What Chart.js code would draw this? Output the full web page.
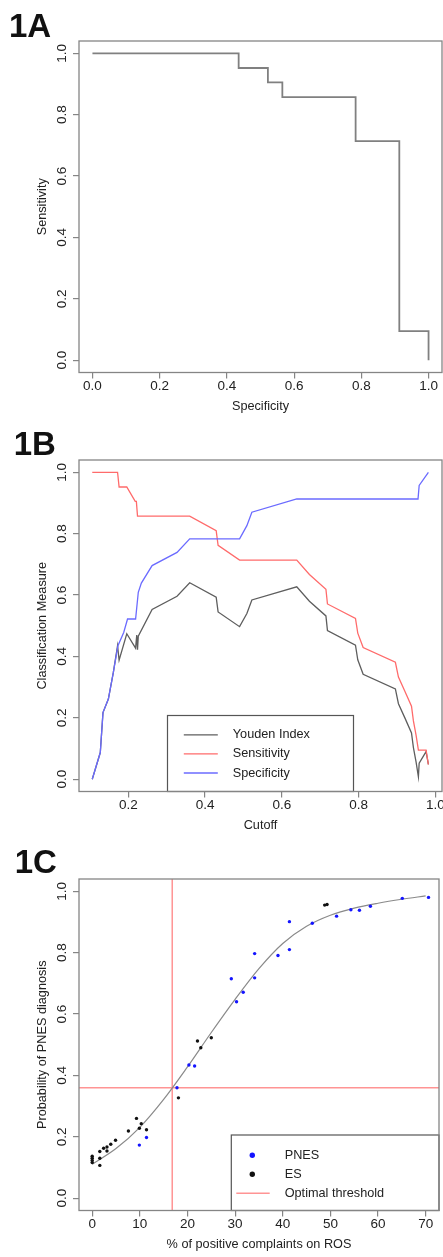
<!DOCTYPE html>
<html><head><meta charset="utf-8">
<script src="https://cdn.jsdelivr.net/npm/chart.js@4.4.1/dist/chart.umd.min.js"></script>
<style>
html,body{margin:0;padding:0;background:#fff;}
body{width:443px;height:1257px;position:relative;overflow:hidden;font-family:'Liberation Sans',Arial,sans-serif;}
canvas{position:absolute;left:0;}
.panel{position:absolute;font-weight:bold;font-size:33px;line-height:1;color:#111;white-space:nowrap;}
</style></head><body>
<canvas id="chartA" width="443" height="419" style="top:0px"></canvas>
<canvas id="chartB" width="443" height="419" style="top:419px"></canvas>
<canvas id="chartC" width="443" height="419" style="top:838px"></canvas>
<div class="panel" style="left:9px;top:8.7px">1A</div>
<div class="panel" style="left:13.7px;top:427.4px">1B</div>
<div class="panel" style="left:14.7px;top:845px">1C</div>
<script>
// ---------- Panel 1A: ROC curve ----------
const rocSpecificity = [0, 0.435, 0.522, 0.565, 0.783, 0.913, 1.0];
const rocSensitivity = [1.0, 0.952, 0.905, 0.857, 0.714, 0.095, 0.0];

// ---------- Panel 1B: classification measures vs cutoff ----------
const youdenCutoff = [0.106,0.127,0.134,0.148,0.161,0.172,0.176,0.196,0.219,0.222,0.224,0.226,0.262,0.327,0.360,0.429,0.434,0.490,0.509,0.522,0.639,0.672,0.715,0.719,0.792,0.798,0.812,0.896,0.904,0.921,0.938,0.943,0.950,0.956,0.958,0.976,0.982];
const youdenValue  = [0.0,0.087,0.217,0.261,0.348,0.435,0.388,0.474,0.427,0.470,0.422,0.466,0.553,0.596,0.640,0.593,0.545,0.497,0.540,0.584,0.627,0.580,0.532,0.484,0.437,0.389,0.342,0.294,0.246,0.199,0.151,0.103,0.056,0.008,0.052,0.090,0.048];
const sensCutoff = [0.106,0.172,0.176,0.196,0.218,0.221,0.224,0.360,0.429,0.434,0.490,0.639,0.672,0.715,0.719,0.792,0.798,0.812,0.896,0.904,0.921,0.938,0.943,0.950,0.956,0.976,0.982];
const sensValue  = [1.0,1.0,0.952,0.952,0.905,0.905,0.857,0.857,0.810,0.762,0.714,0.714,0.667,0.619,0.571,0.524,0.476,0.429,0.381,0.333,0.286,0.238,0.190,0.143,0.095,0.095,0.048];
const specCutoff = [0.106,0.127,0.134,0.148,0.161,0.173,0.188,0.198,0.219,0.226,0.234,0.262,0.327,0.360,0.490,0.509,0.522,0.639,0.955,0.958,0.982];
const specValue  = [0.0,0.087,0.217,0.261,0.348,0.435,0.478,0.522,0.522,0.609,0.639,0.696,0.739,0.783,0.783,0.826,0.870,0.913,0.913,0.957,1.0];

// ---------- Panel 1C: logistic fit ----------
const pnesX = [9.9,11.4,17.8,20.3,21.5,29.2,30.3,31.7,34.1,34.1,39.0,41.4,41.4,46.2,51.3,54.3,56.1,58.4,65.1,70.6];
const pnesY = [0.173,0.198,0.360,0.434,0.431,0.715,0.640,0.671,0.797,0.718,0.791,0.901,0.810,0.896,0.919,0.940,0.938,0.951,0.977,0.980];
const esX = [0,0,0,0,1.6,1.6,1.6,2.4,3.1,3.1,3.9,4.9,7.6,9.3,9.9,10.3,11.4,18.1,22.1,22.8,25.0,48.8,49.3];
const esY = [0.137,0.130,0.123,0.116,0.152,0.130,0.107,0.163,0.167,0.154,0.176,0.189,0.219,0.260,0.228,0.243,0.223,0.327,0.512,0.490,0.523,0.955,0.957];
const curveX = [0,5,10,15,20,25,30,35,40,45,50,55,60,65,70];
const curveY = [0.111,0.162,0.231,0.322,0.428,0.540,0.648,0.748,0.830,0.886,0.922,0.945,0.961,0.974,0.985];
const thresholdX = 16.8;
const thresholdY = 0.36;

// ---------- Tick labels ----------
const unitTicks = [0, 0.2, 0.4, 0.6, 0.8, 1.0];
const unitTickLabels = ['0.0','0.2','0.4','0.6','0.8','1.0'];
const cutoffTicks = [0.2, 0.4, 0.6, 0.8, 1.0];
const cutoffTickLabels = ['0.2','0.4','0.6','0.8','1.0'];
const rosTicks = [0,10,20,30,40,50,60,70];
const rosTickLabels = ['0','10','20','30','40','50','60','70'];

// ---------- styling ----------
const FONT = "'Liberation Sans', Arial, Helvetica, sans-serif";
const TEXT = '#222';
const AXIS = '#858585';
const pts = (xs, ys) => xs.map((x, i) => ({x, y: ys[i]}));

function xAxis(min, max, values, labels, title) {
  return {
    type: 'linear', position: 'bottom', min, max,
    afterBuildTicks: s => { s.ticks = values.map(v => ({value: v})); },
    afterFit: s => { s.height = 46.5; s.paddingLeft = 0; s.paddingRight = 0; },
    grid: {display: true, drawOnChartArea: false, drawTicks: true, tickLength: 6, color: AXIS, lineWidth: 1.2},
    border: {display: false},
    ticks: {autoSkip: false, maxRotation: 0, minRotation: 0, padding: 0, color: TEXT,
            font: {family: FONT, size: 13.5}, callback: (v, i) => labels[i]},
    title: {display: true, text: title, color: TEXT, font: {family: FONT, size: 12.7}, padding: {top: 0, bottom: 4.6}}
  };
}
function yAxis(values, labels, title) {
  return {
    type: 'linear', position: 'left', min: -0.04, max: 1.04,
    afterBuildTicks: s => { s.ticks = values.map(v => ({value: v})); },
    afterFit: s => { s.width = 79; s.paddingTop = 0; s.paddingBottom = 0; },
    grid: {display: true, drawOnChartArea: false, drawTicks: true, tickLength: 6, color: AXIS, lineWidth: 1.2},
    border: {display: false},
    ticks: {display: false, autoSkip: false, callback: (v, i) => labels[i]},
    title: {display: true, text: title, color: TEXT, font: {family: FONT, size: 12.7}, padding: {top: 34.4, bottom: 0}}
  };
}

// R-like decorations: rotated y tick labels, plot box, threshold lines, legend
const rPlot = {
  id: 'rPlot',
  beforeDatasetsDraw(chart, args, opts) {
    const th = opts.threshold;
    if (!th) return;
    const {ctx, chartArea: a, scales: {x, y}} = chart;
    const px = x.getPixelForValue(th.x), py = y.getPixelForValue(th.y);
    ctx.save();
    ctx.strokeStyle = th.color; ctx.lineWidth = th.width;
    ctx.beginPath();
    ctx.moveTo(px, a.top); ctx.lineTo(px, a.bottom);
    ctx.moveTo(a.left, py); ctx.lineTo(a.right, py);
    ctx.stroke();
    ctx.restore();
  },
  afterDatasetsDraw(chart, args, opts) {
    const lg = opts.legend;
    if (!lg) return;
    const {ctx, chartArea: a} = chart;
    const w = lg.width, h = lg.height;
    const left = lg.anchor === 'bottomright' ? a.right - w : (a.left + a.right) / 2 - w / 2;
    const top = a.bottom - h;
    ctx.save();
    ctx.fillStyle = '#fff';
    ctx.fillRect(left, top, w, h);
    ctx.strokeStyle = '#555'; ctx.lineWidth = 1.2;
    ctx.strokeRect(left, top, w, h);
    ctx.font = '12.7px ' + FONT;
    ctx.textBaseline = 'middle'; ctx.textAlign = 'left';
    lg.items.forEach((it, i) => {
      const ry = top + lg.rowStart + i * lg.rowGap;
      if (it.kind === 'line') {
        ctx.strokeStyle = it.color; ctx.lineWidth = it.width;
        ctx.beginPath(); ctx.moveTo(left + it.x0, ry); ctx.lineTo(left + it.x1, ry); ctx.stroke();
      } else {
        ctx.fillStyle = it.color;
        ctx.beginPath(); ctx.arc(left + lg.markerX, ry, 2.7, 0, Math.PI * 2); ctx.fill();
      }
      ctx.fillStyle = TEXT;
      ctx.fillText(it.label, left + lg.textX, ry);
    });
    ctx.restore();
  },
  afterDraw(chart) {
    const {ctx, chartArea: a, scales: {y}} = chart;
    ctx.save();
    ctx.fillStyle = TEXT;
    ctx.font = '13.5px ' + FONT;
    ctx.textAlign = 'center'; ctx.textBaseline = 'middle';
    y.ticks.forEach(t => {
      ctx.save();
      ctx.translate(a.left - 16.5, y.getPixelForValue(t.value));
      ctx.rotate(-Math.PI / 2);
      ctx.fillText(t.label, 0, 0);
      ctx.restore();
    });
    ctx.strokeStyle = AXIS; ctx.lineWidth = 1.3;
    ctx.strokeRect(a.left, a.top, a.right - a.left, a.bottom - a.top);
    ctx.restore();
  }
};

const base = {
  responsive: false, animation: false, devicePixelRatio: 1,
  layout: {padding: {top: 41, right: 1, bottom: 0, left: 0}},
  plugins: {legend: {display: false}, tooltip: {enabled: false}}
};

// 1A
new Chart(document.getElementById('chartA'), {
  type: 'scatter',
  data: {datasets: [{
    label: 'ROC', data: pts(rocSpecificity, rocSensitivity), showLine: true, stepped: true,
    borderColor: '#808080', borderWidth: 1.8, pointRadius: 0
  }]},
  options: Object.assign({}, base, {
    scales: {
      x: xAxis(-0.04, 1.04, unitTicks, unitTickLabels, 'Specificity'),
      y: yAxis(unitTicks, unitTickLabels, 'Sensitivity')
    },
    plugins: Object.assign({}, base.plugins, {rPlot: {}})
  }),
  plugins: [rPlot]
});

// 1B
const colYouden = '#5e5e5e', colSens = '#ff6b6b', colSpec = '#6b6bff';
new Chart(document.getElementById('chartB'), {
  type: 'scatter',
  data: {datasets: [
    {label: 'Youden Index', data: pts(youdenCutoff, youdenValue), showLine: true, borderColor: colYouden, borderWidth: 1.3, pointRadius: 0, order: 3},
    {label: 'Sensitivity', data: pts(sensCutoff, sensValue), showLine: true, borderColor: colSens, borderWidth: 1.3, pointRadius: 0, order: 2},
    {label: 'Specificity', data: pts(specCutoff, specValue), showLine: true, borderColor: colSpec, borderWidth: 1.3, pointRadius: 0, order: 1}
  ]},
  options: Object.assign({}, base, {
    scales: {
      x: xAxis(0.0715, 1.0175, cutoffTicks, cutoffTickLabels, 'Cutoff'),
      y: yAxis(unitTicks, unitTickLabels, 'Classification Measure')
    },
    plugins: Object.assign({}, base.plugins, {rPlot: {legend: {
      anchor: 'bottom', width: 186, height: 76, rowStart: 19.3, rowGap: 19.1, textX: 65.3, markerX: 0,
      items: [
        {kind: 'line', color: colYouden, width: 1.3, x0: 16.3, x1: 50.3, label: 'Youden Index'},
        {kind: 'line', color: colSens, width: 1.3, x0: 16.3, x1: 50.3, label: 'Sensitivity'},
        {kind: 'line', color: colSpec, width: 1.3, x0: 16.3, x1: 50.3, label: 'Specificity'}
      ]
    }}})
  }),
  plugins: [rPlot]
});

// 1C
const colPnes = '#1414ff', colEs = '#111111', colThr = '#ff9494';
new Chart(document.getElementById('chartC'), {
  type: 'scatter',
  data: {datasets: [
    {label: 'Fit', data: pts(curveX, curveY), showLine: true, cubicInterpolationMode: 'monotone', borderColor: '#8a8a8a', borderWidth: 1.2, pointRadius: 0, order: 3},
    {label: 'ES', data: pts(esX, esY), backgroundColor: colEs, borderWidth: 0, pointRadius: 1.7, order: 2},
    {label: 'PNES', data: pts(pnesX, pnesY), backgroundColor: colPnes, borderWidth: 0, pointRadius: 1.7, order: 1}
  ]},
  options: Object.assign({}, base, {
    scales: {
      x: xAxis(-2.77, 72.8, rosTicks, rosTickLabels, '% of positive complaints on ROS'),
      y: yAxis(unitTicks, unitTickLabels, 'Probability of PNES diagnosis')
    },
    plugins: Object.assign({}, base.plugins, {rPlot: {
      threshold: {x: thresholdX, y: thresholdY, color: colThr, width: 1.5},
      legend: {
        anchor: 'bottomright', width: 207.7, height: 75.5, rowStart: 20.3, rowGap: 19, textX: 53.4, markerX: 21,
        items: [
          {kind: 'point', color: colPnes, label: 'PNES'},
          {kind: 'point', color: colEs, label: 'ES'},
          {kind: 'line', color: colThr, width: 1.5, x0: 5, x1: 38.4, label: 'Optimal threshold'}
        ]
      }
    }})
  }),
  plugins: [rPlot]
});
</script>
</body></html>
